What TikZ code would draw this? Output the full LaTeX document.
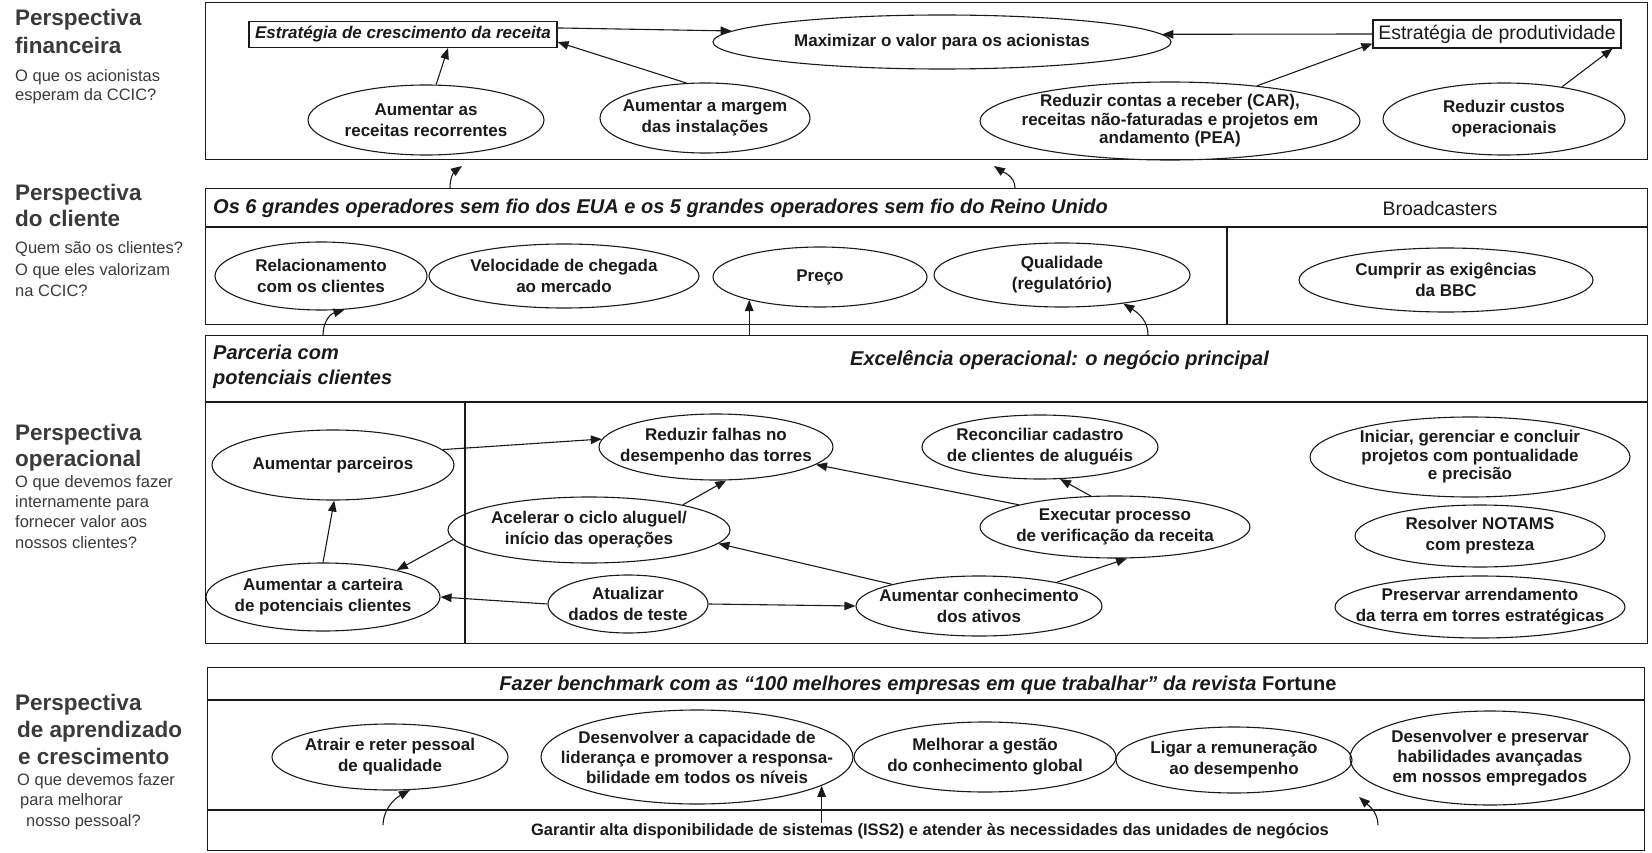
\documentclass[tikz,border=0pt]{standalone}
\usepackage{fontspec}
\setmainfont{Liberation Sans}
\usetikzlibrary{shapes.geometric,arrows.meta,calc}
\definecolor{ink}{HTML}{1A1A1A}
\definecolor{side}{HTML}{3A3A3A}

\begin{document}
\begin{tikzpicture}[x=1pt,y=-1pt,
  panel/.style={draw=ink,line width=1.4pt,anchor=north west,inner sep=0pt},
  rule/.style={draw=ink,line width=1.2pt},
  ell/.style={draw=ink,ellipse,line width=1.1pt,inner xsep=-45pt,inner ysep=-8pt,
    align=center,text=ink,font=\bfseries\fontsize{17}{21}\selectfont},
  ellt/.style={ell,font=\bfseries\fontsize{17}{18.5}\selectfont},
  goal/.style={draw=ink,line width=1.1pt,inner sep=0pt,text=ink},
  arr/.style={draw=ink,line width=1.1pt,-{Triangle[length=11pt,width=8.5pt]}},
  band/.style={anchor=west,inner sep=0pt,text=ink,font=\bfseries\itshape\fontsize{20}{25}\selectfont},
  hd/.style={anchor=base west,inner sep=0pt,text=side,font=\bfseries\fontsize{22.5}{27}\selectfont},
  sub/.style={anchor=base west,inner sep=0pt,text=side,font=\fontsize{16.5}{20}\selectfont},
]
\useasboundingbox (0,0) rectangle (1652,853);

% ---------- side labels ----------
\foreach \txt/\xx/\yy [count=\k] in {Perspectiva/15/26, financeira/15/54}
  \node[hd] (g1h\k) at (\xx,\yy) {\txt};
\foreach \txt/\xx/\yy [count=\k] in {O que os acionistas/15/82, esperam da CCIC?/15/101}
  \node[sub] (g1s\k) at (\xx,\yy) {\txt};
\foreach \txt/\xx/\yy [count=\k] in {Perspectiva/15/201, do cliente/15/227}
  \node[hd] (g2h\k) at (\xx,\yy) {\txt};
\foreach \txt/\xx/\yy [count=\k] in {Quem são os clientes?/15/254, O que eles valorizam/15/275, na CCIC?/15/296}
  \node[sub] (g2s\k) at (\xx,\yy) {\txt};
\foreach \txt/\xx/\yy [count=\k] in {Perspectiva/15/440, operacional/15/466}
  \node[hd] (g3h\k) at (\xx,\yy) {\txt};
\foreach \txt/\xx/\yy [count=\k] in {O que devemos fazer/15/487, internamente para/15/507, fornecer valor aos/15/527, nossos clientes?/15/548}
  \node[sub] (g3s\k) at (\xx,\yy) {\txt};
\foreach \txt/\xx/\yy [count=\k] in {Perspectiva/15/710, de aprendizado/17/737, e crescimento/18/764}
  \node[hd] (g4h\k) at (\xx,\yy) {\txt};
\foreach \txt/\xx/\yy [count=\k] in {O que devemos fazer/17/785, para melhorar/20/805, nosso pessoal?/26/826}
  \node[sub] (g4s\k) at (\xx,\yy) {\txt};

% ---------- financial ----------
\node[panel,minimum width=1442pt,minimum height=157pt] (fin) at (205,2) {};
\node[goal,minimum width=308pt,minimum height=26pt,font=\bfseries\itshape\fontsize{17}{20}\selectfont] (grow) at (403,34.5) {Estratégia de crescimento da receita};
\node[ell,minimum width=458pt,minimum height=54pt] (maxv) at (942,42) {Maximizar o valor para os acionistas};
\node[goal,minimum width=248pt,minimum height=28pt,font=\fontsize{19.5}{22}\selectfont] (prod) at (1497,34) {Estratégia de produtividade};
\node[ell,minimum width=236pt,minimum height=70pt] (rec) at (426,120) {Aumentar as\\receitas recorrentes};
\node[ell,minimum width=210pt,minimum height=70pt] (marg) at (705,118) {Aumentar a margem\\das instalações};
\node[ellt,minimum width=380pt,minimum height=78pt] (car) at (1170,121) {Reduzir contas a receber (CAR),\\receitas não-faturadas e projetos em\\andamento (PEA)};
\node[ell,minimum width=242pt,minimum height=72pt] (cost) at (1504,119) {Reduzir custos\\operacionais};

\draw[arr] ([yshift=-7pt]grow.north east) -- (maxv.177);
\draw[arr] (prod.west) -- (maxv.2);
\draw[arr] (rec.74) -- ([xshift=45pt]grow.south);
\draw[arr] (marg.118) -- ([yshift=6pt]grow.south east);
\draw[arr] (car.22) -- ([yshift=5pt]prod.south west);
\draw[arr] (cost.29) -- ([xshift=-9pt]prod.south east);

% ---------- customer ----------
\node[panel,minimum width=1442pt,minimum height=136pt] (cust) at (205,188) {};
\draw[rule] (205,227) -- (1647,227);
\draw[rule] (1227,227) -- (1227,324);
\node[band] (custhd) at (213,208) {Os 6 grandes operadores sem fio dos EUA e os 5 grandes operadores sem fio do Reino Unido};
\node[inner sep=0pt,text=ink,font=\fontsize{19.5}{22}\selectfont] (bcast) at (1440,209) {Broadcasters};
\node[ell,minimum width=212pt,minimum height=68pt] (c1) at (321,276) {Relacionamento\\com os clientes};
\node[ell,minimum width=270pt,minimum height=64pt] (c2) at (564,276) {Velocidade de chegada\\ao mercado};
\node[ell,minimum width=214pt,minimum height=60pt] (c3) at (820,277) {Preço};
\node[ell,minimum width=256pt,minimum height=64pt] (c4) at (1062,275) {Qualidade\\(regulatório)};
\node[ell,minimum width=294pt,minimum height=64pt] (c5) at (1446,280) {Cumprir as exigências\\da BBC};

\coordinate (s1) at (450,188); \coordinate (t1) at (462,166);
\draw[arr] (s1) .. controls (450,176) and (455,171) .. (t1);
\coordinate (s2) at (1015,188); \coordinate (t2) at (994,166);
\draw[arr] (s2) .. controls (1015,176) and (1003,172) .. (t2);

% ---------- operational ----------
\node[panel,minimum width=1442pt,minimum height=308pt] (ops) at (205,335) {};
\draw[rule] (205,402) -- (1647,402);
\draw[rule] (465,402) -- (465,643);
\node[band,anchor=north west,align=left] (partner) at (213,345) {Parceria com\\potenciais clientes};
\node[band] (excel) at (850,360) {Excelência operacional: o negócio principal};

\coordinate (s3) at (323,335);
\draw[arr] (s3) .. controls (323,322) and (330,314) .. (c1.-55);
\draw[arr] (c3.-162 |- ops.north) -- (c3.-162);
\coordinate (s4) at (1148,335);
\draw[arr] (s4) .. controls (1148,322) and (1140,314) .. (c4.-25);

\node[ell,minimum width=242pt,minimum height=70pt] (o1) at (333,465) {Aumentar parceiros};
\node[ell,minimum width=234pt,minimum height=68pt] (o2) at (323,597) {Aumentar a carteira\\de potenciais clientes};
\node[ell,minimum width=234pt,minimum height=66pt] (o3) at (716,447) {Reduzir falhas no\\desempenho das torres};
\node[ell,minimum width=236pt,minimum height=64pt] (o4) at (1040,447) {Reconciliar cadastro\\de clientes de aluguéis};
\node[ellt,minimum width=320pt,minimum height=80pt] (o5) at (1470,457) {Iniciar, gerenciar e concluir\\projetos com pontualidade\\e precisão};
\node[ell,minimum width=282pt,minimum height=66pt] (o6) at (589,530) {Acelerar o ciclo aluguel/\\início das operações};
\node[ell,minimum width=270pt,minimum height=62pt] (o7) at (1115,527) {Executar processo\\de verificação da receita};
\node[ell,minimum width=250pt,minimum height=62pt] (o8) at (1480,536) {Resolver NOTAMS\\com presteza};
\node[ell,minimum width=290pt,minimum height=62pt] (o9) at (1480,607) {Preservar arrendamento\\da terra em torres estratégicas};
\node[ell,minimum width=160pt,minimum height=58pt] (o10) at (628,604) {Atualizar\\dados de teste};
\node[ell,minimum width=246pt,minimum height=60pt] (o11) at (979,606) {Aumentar conhecimento\\dos ativos};

\draw[arr] (o1.8) -- (o3.176);
\draw[arr] (o2.north) -- (o1.-88);
\draw[arr] (o6.-176) -- (o2.20);
\draw[arr] (o10.west) -- (o2.east);
\draw[arr] (o6.15) -- (o3.-73);
\draw[arr] (o7.167) -- (o3.-10);
\draw[arr] (o7.128) -- (o4.-58);
\draw[arr] (o11.166) -- (o6.-6);
\draw[arr] (o10.east) -- (o11.west);
\draw[arr] (o11.17) -- (o7.-69);

% ---------- learning and growth ----------
\node[panel,minimum width=1437pt,minimum height=183pt] (learn) at (207,667) {};
\draw[rule] (207,700) -- (1644,700);
\draw[rule] (207,810) -- (1644,810);
\node[band,anchor=center] (bench) at (918,685) {Fazer benchmark com as “100 melhores empresas em que trabalhar” da revista {\upshape Fortune}};
\node[inner sep=0pt,text=ink,font=\bfseries\fontsize{16.5}{19}\selectfont] (sys) at (930,831) {Garantir alta disponibilidade de sistemas (ISS2) e atender às necessidades das unidades de negócios};

\node[ell,minimum width=236pt,minimum height=66pt] (l1) at (390,757) {Atrair e reter pessoal\\de qualidade};
\node[ell,font=\bfseries\fontsize{17}{20}\selectfont,minimum width=312pt,minimum height=94pt] (l2) at (697,757) {Desenvolver a capacidade de\\liderança e promover a responsa-\\bilidade em todos os níveis};
\node[ell,minimum width=262pt,minimum height=70pt] (l3) at (985,757) {Melhorar a gestão\\do conhecimento global};
\node[ell,minimum width=236pt,minimum height=66pt] (l4) at (1234,760) {Ligar a remuneração\\ao desempenho};
\node[ell,font=\bfseries\fontsize{17}{20}\selectfont,minimum width=280pt,minimum height=94pt] (l5) at (1490,758) {Desenvolver e preservar\\habilidades avançadas\\em nossos empregados};

\coordinate (s6) at (383,825);
\draw[arr] (s6) .. controls (383,812) and (392,800) .. (l1.-59);
\coordinate (gl) at (0,823);
\draw[arr] (l2.-13 |- gl) -- (l2.-13);
\coordinate (s7) at (1378,825); \coordinate (t7) at (1359,797);
\draw[arr] (s7) .. controls (1378,812) and (1368,805) .. (t7);
\end{tikzpicture}
\end{document}
